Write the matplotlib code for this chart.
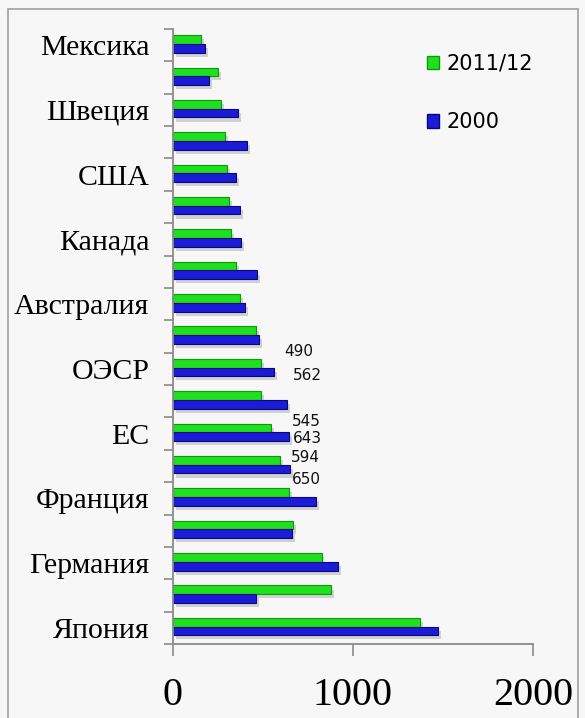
import matplotlib
matplotlib.use("Agg")
import matplotlib.pyplot as plt
import matplotlib.patheffects as pe
from matplotlib.patches import Rectangle, Patch
import numpy as np

# categories, top to bottom (Excel skipped every other label)
categories = ["Мексика", "", "Швеция", "", "США", "", "Канада", "",
              "Австралия", "", "ОЭСР", "", "ЕС", "", "Франция", "",
              "Германия", "", "Япония"]
vals_2011 = [158, 249, 269, 291, 301, 310, 321, 351, 371, 460,
             490, 491, 545, 594, 646, 667, 826, 877, 1371]
vals_2000 = [179, 199, 360, 410, 349, 373, 380, 469, 399, 478,
             562, 633, 643, 650, 794, 663, 916, 460, 1471]
series_names = ["2011/12", "2000"]

# data labels shown in the picture: (category index, series, value, offset px)
data_labels = [(10, 0, "490", (38, 12)), (10, 1, "562", (33, -4)),
               (12, 0, "545", (35, 6)), (12, 1, "643", (19, -2)),
               (13, 0, "594", (25, 3)), (13, 1, "650", (16, -10))]

green, green_edge = "#1EE01E", "#0A9A0A"
blue, blue_edge = "#1C1CD8", "#08087A"
bg = "#F7F7F7"

W, H, DPI = 585, 718, 100
fig = plt.figure(figsize=(W / DPI, H / DPI), dpi=DPI, facecolor=bg)

# outer chart border
fig.patches.append(Rectangle((8 / W, -0.05), (570) / W, 1.05 - 9 / H,
                             transform=fig.transFigure, fill=False,
                             edgecolor="#A0A0A0", linewidth=1.2))

ax = fig.add_axes([173 / W, 1 - 644 / H, (533 - 173) / W, (644 - 29) / H])
ax.set_facecolor(bg)

n = len(categories)
y = np.arange(n)
h = 0.27
shadow = [pe.SimplePatchShadow(offset=(2, -3), shadow_rgbFace="#888888", alpha=0.35),
          pe.Normal()]
b1 = ax.barh(y - h / 2 - 0.04, vals_2011, height=h, color=green,
             edgecolor=green_edge, linewidth=0.8, path_effects=shadow)
b2 = ax.barh(y + h / 2 - 0.04, vals_2000, height=h, color=blue,
             edgecolor=blue_edge, linewidth=0.8, path_effects=shadow)

ax.set_ylim(n - 0.5, -0.5)
ax.set_xlim(0, 2000)

for s in ["top", "right"]:
    ax.spines[s].set_visible(False)
for s in ["left", "bottom"]:
    ax.spines[s].set_color("#8A8A8A")
    ax.spines[s].set_linewidth(1.3)

serif = "Liberation Serif"
ax.set_xticks([0, 1000, 2000])
ax.set_xticklabels(["0", "1000", "2000"], fontfamily=serif, fontsize=29)
ax.tick_params(axis="x", direction="out", length=8.5, width=1.2,
               color="#8A8A8A", pad=15)

ax.set_yticks(y)
ax.set_yticklabels(categories, fontfamily=serif, fontsize=21.5)
ax.tick_params(axis="y", which="major", length=0, pad=17)
ax.set_yticks(np.arange(n + 1) - 0.5, minor=True)
ax.tick_params(axis="y", which="minor", direction="out", length=6.5,
               width=1.2, color="#8A8A8A")

series_vals = [vals_2011, vals_2000]
series_off = [-h / 2 - 0.04, h / 2 - 0.04]
for i, s, txt, (dx, dy) in data_labels:
    ax.annotate(txt, xy=(series_vals[s][i], i + series_off[s]),
                xytext=(dx * 0.72, dy * 0.72), textcoords="offset points",
                ha="center", va="center", fontsize=11, color="#111111",
                fontfamily="DejaVu Sans")

handles = [Patch(facecolor=green, edgecolor=green_edge),
           Patch(facecolor=blue, edgecolor=blue_edge)]
leg = fig.legend(handles, series_names, loc="upper left",
                 bbox_to_anchor=(408 / W, 1 - 35 / H), frameon=False,
                 handlelength=0.6, handleheight=0.6, handletextpad=0.35,
                 labelspacing=1.85, prop={"family": "DejaVu Sans", "size": 15})

fig.savefig("out.png", dpi=DPI, facecolor=bg)
